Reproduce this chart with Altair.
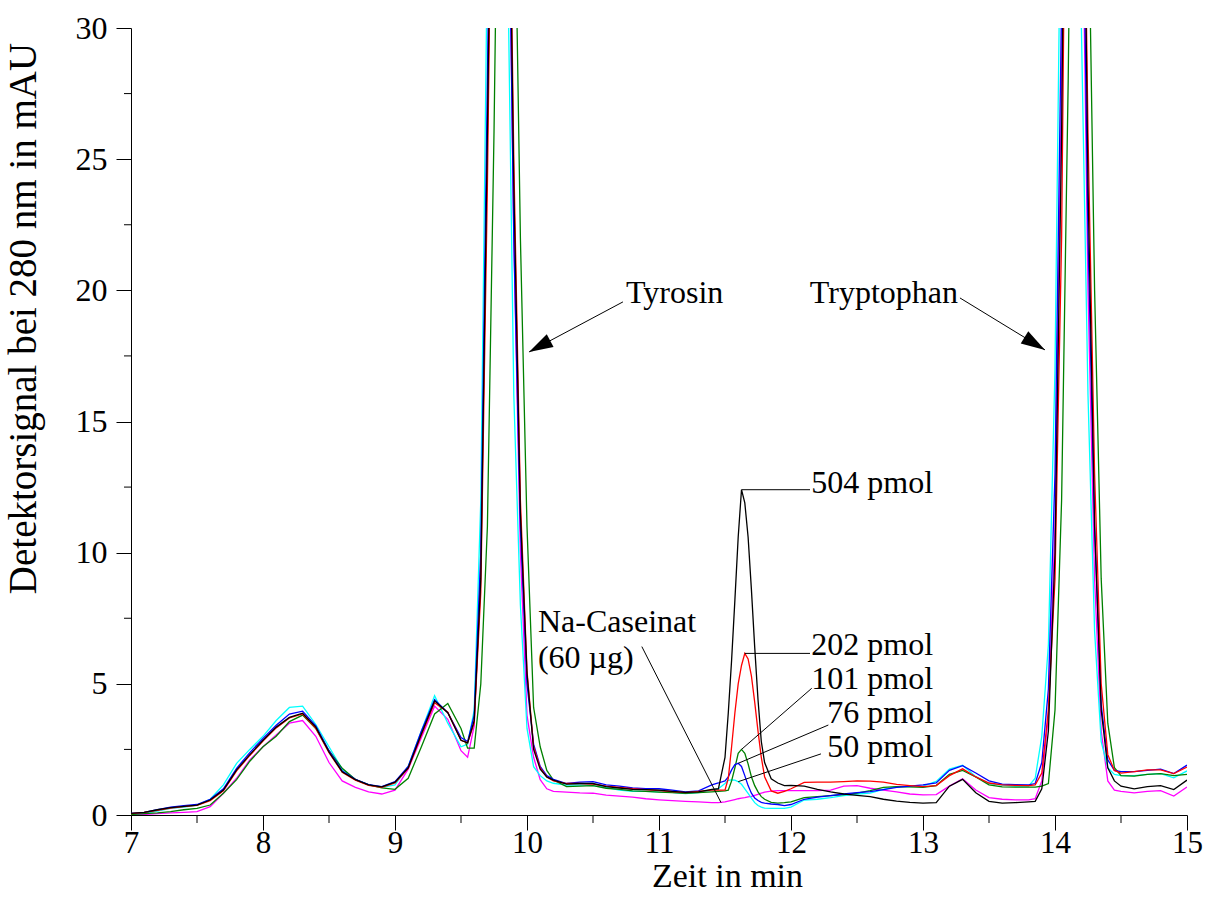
import math
import altair as alt
import pandas as pd

FONT = "Liberation Serif"

# Retention time grid (min); finer steps where the peaks are steep
TIME_MIN = [
    7.0, 7.1, 7.2, 7.3, 7.4, 7.5, 7.6, 7.7, 7.8, 7.9, 8.0, 8.1, 8.2, 8.3, 8.4, 8.5,
    8.6, 8.7, 8.8, 8.9, 9.0, 9.1, 9.2, 9.3, 9.4, 9.5,
    9.55, 9.6, 9.65, 9.7, 9.75, 9.8, 9.85, 9.9, 9.95, 10.0, 10.05, 10.1, 10.15, 10.2,
    10.3, 10.4, 10.5, 10.6, 10.7, 10.8, 10.9, 11.0, 11.1, 11.2, 11.3, 11.4,
    11.45, 11.5, 11.525, 11.55, 11.575, 11.6, 11.625, 11.65, 11.675, 11.7, 11.725,
    11.75, 11.775, 11.8, 11.85, 11.9, 11.95,
    12.0, 12.1, 12.2, 12.3, 12.4, 12.5, 12.6, 12.7, 12.8, 12.9, 13.0, 13.1, 13.2,
    13.3, 13.4, 13.5, 13.6, 13.7, 13.8,
    13.85, 13.9, 13.95, 14.0, 14.05, 14.1, 14.15, 14.2, 14.25, 14.3, 14.35, 14.4,
    14.45, 14.5,
    14.6, 14.7, 14.8, 14.9, 15.0,
]

# Detector signal at 280 nm (mAU) for each injection
SIGNAL_504_PMOL = [
    0.06, 0.10, 0.20, 0.28, 0.33, 0.38, 0.57, 0.95, 1.72, 2.30, 2.85, 3.35, 3.72, 3.88, 3.35, 2.40,
    1.65, 1.35, 1.15, 1.07, 1.25, 1.80, 3.10, 4.35, 3.90, 2.85,
    2.75, 3.6, 9.0, 26, 45, 55, 42, 24, 11.5, 5.4, 2.5, 1.75, 1.45, 1.33,
    1.18, 1.20, 1.20, 1.08, 1.03, 0.98, 0.97, 0.95, 0.90, 0.86, 0.88, 0.98,
    1.0, 2.2, 3.9, 5.9, 8.2, 10.6, 12.4, 11.9, 10.6, 8.6, 6.4,
    4.4, 2.8, 2.0, 1.38, 1.22, 1.12,
    1.13, 1.10, 0.98, 0.88, 0.80, 0.75, 0.70, 0.60, 0.53, 0.48, 0.45, 0.47, 1.10,
    1.36, 0.85, 0.52, 0.45, 0.47, 0.50,
    0.52, 1.0, 3.2, 10, 26, 50, 65, 45, 24, 11, 4.0, 1.8,
    1.3, 1.1,
    1.0, 1.08, 1.12, 0.97, 1.33,
]
SIGNAL_202_PMOL = [
    0.05, 0.10, 0.18, 0.26, 0.32, 0.37, 0.55, 0.92, 1.68, 2.27, 2.82, 3.32, 3.70, 3.85, 3.30, 2.38,
    1.63, 1.33, 1.13, 1.05, 1.22, 1.78, 3.05, 4.28, 3.92, 2.85,
    2.75, 3.5, 8.5, 24, 44, 55, 43, 25, 12, 5.5, 2.6, 1.8, 1.45, 1.30,
    1.20, 1.20, 1.18, 1.10, 1.05, 1.00, 0.97, 0.93, 0.89, 0.85, 0.90, 0.95,
    0.95, 0.95, 1.4, 2.6, 3.9, 5.0, 5.7, 6.16, 5.95, 5.3, 4.3,
    3.2, 2.2, 1.46, 0.92, 0.83, 0.90,
    1.00, 1.24, 1.25, 1.25, 1.27, 1.30, 1.29, 1.25, 1.17, 1.12, 1.08, 1.12, 1.50,
    1.76, 1.45, 1.22, 1.15, 1.13, 1.12,
    1.15, 1.6, 4.0, 9.0, 22, 48, 64, 44, 26, 13, 5.0, 2.3,
    1.7, 1.6,
    1.65, 1.72, 1.72, 1.58, 1.83,
]
SIGNAL_101_PMOL = [
    0.02, 0.05, 0.08, 0.13, 0.20, 0.25, 0.38, 0.83, 1.35, 2.05, 2.60, 3.00, 3.56, 3.81, 3.30, 2.45,
    1.78, 1.35, 1.15, 1.03, 0.98, 1.40, 2.60, 3.85, 4.25, 3.30,
    2.55, 2.55, 5.0, 11, 26, 45, 52, 38, 22, 11, 4.1, 2.6, 1.7, 1.33,
    1.08, 1.10, 1.12, 1.02, 0.98, 0.92, 0.90, 0.87, 0.85, 0.83, 0.85, 0.88,
    0.90, 0.92, 0.95, 1.30, 1.80, 2.35, 2.50, 2.35, 1.95, 1.46, 1.12,
    0.88, 0.70, 0.60, 0.48, 0.45, 0.47,
    0.50, 0.66, 0.70, 0.74, 0.78, 0.83, 0.93, 1.05, 1.08, 1.07, 1.05, 1.12, 1.55,
    1.70, 1.45, 1.15, 1.07, 1.06, 1.06,
    1.06, 1.10, 1.20, 4.0, 12, 28, 50, 60, 36, 20, 9.0, 3.5,
    1.8, 1.5,
    1.48, 1.55, 1.58, 1.50, 1.55,
]
SIGNAL_76_PMOL = [
    0.06, 0.10, 0.20, 0.30, 0.36, 0.40, 0.60, 1.00, 1.78, 2.38, 2.92, 3.42, 3.85, 3.96, 3.40, 2.45,
    1.68, 1.36, 1.16, 1.08, 1.27, 1.85, 3.20, 4.40, 3.90, 2.95,
    2.8, 3.8, 10, 28, 47, 54, 40, 22, 11, 5.0, 2.7, 1.85, 1.5, 1.36,
    1.20, 1.25, 1.27, 1.15, 1.10, 1.03, 1.00, 1.00, 0.95, 0.88, 0.92, 1.15,
    1.22, 1.30, 1.45, 1.72, 1.92, 1.97, 1.85, 1.50, 1.12, 0.83, 0.65,
    0.55, 0.48, 0.45, 0.42, 0.40, 0.36,
    0.40, 0.60, 0.68, 0.74, 0.80, 0.85, 0.89, 0.97, 1.05, 1.10, 1.15, 1.22, 1.70,
    1.88, 1.60, 1.30, 1.18, 1.16, 1.15,
    1.2, 2.0, 4.8, 13, 31, 55, 62, 40, 22, 11, 4.2, 2.1,
    1.7, 1.65,
    1.65, 1.70, 1.75, 1.58, 1.90,
]
SIGNAL_50_PMOL = [
    0.03, 0.06, 0.15, 0.25, 0.30, 0.38, 0.60, 1.15, 1.97, 2.50, 3.00, 3.60, 4.10, 4.15, 3.45, 2.60,
    1.75, 1.35, 1.15, 1.05, 1.15, 1.85, 3.20, 4.55, 3.50, 2.60,
    2.7, 4.0, 12, 33, 50, 48, 34, 16, 8, 3.3, 1.84, 1.5, 1.3, 1.21,
    1.14, 1.15, 1.12, 1.05, 0.95, 0.90, 0.90, 0.88, 0.86, 0.82, 0.85, 0.95,
    1.00, 1.20, 1.32, 1.34, 1.33, 1.27, 1.17, 1.00, 0.82, 0.64, 0.47,
    0.36, 0.30, 0.26, 0.25, 0.25, 0.25,
    0.30, 0.57, 0.60, 0.66, 0.74, 0.80, 0.83, 0.98, 1.08, 1.08, 1.10, 1.28, 1.75,
    1.90, 1.46, 1.20, 1.14, 1.10, 1.10,
    1.4, 3.0, 6.5, 17, 38, 60, 55, 30, 16, 7, 2.8, 1.8,
    1.55, 1.5,
    1.50, 1.55, 1.58, 1.42, 1.68,
]
SIGNAL_CASEINAT = [
    0.00, 0.02, 0.05, 0.08, 0.10, 0.13, 0.32, 0.83, 1.40, 2.10, 2.60, 3.05, 3.50, 3.60, 3.00, 2.00,
    1.30, 1.05, 0.88, 0.80, 0.95, 1.75, 2.95, 4.15, 3.65, 2.45,
    2.2, 3.4, 9.5, 26, 46, 54, 40, 22, 10, 3.8, 2.2, 1.35, 1.0, 0.9,
    0.87, 0.84, 0.83, 0.76, 0.72, 0.68, 0.62, 0.58, 0.55, 0.52, 0.50, 0.47,
    0.47, 0.50, 0.53, 0.56, 0.59, 0.62, 0.64, 0.66, 0.69, 0.71, 0.75,
    0.79, 0.83, 0.87, 0.91, 0.93, 0.93,
    0.93, 0.93, 0.93, 0.95, 1.10, 1.12, 1.02, 0.95, 0.88, 0.80, 0.77, 0.78, 1.10,
    1.38, 0.95, 0.66, 0.60, 0.58, 0.58,
    0.62, 1.3, 3.8, 11, 28, 52, 60, 38, 20, 9, 3.2, 1.3,
    0.95, 0.9,
    0.84, 0.90, 0.93, 0.72, 1.07,
]

# Traces in drawing order (last one on top)
TRACES = [
    ("Na-Caseinat", SIGNAL_CASEINAT, "#ff00ff"),
    ("50 pmol", SIGNAL_50_PMOL, "#00ffff"),
    ("101 pmol", SIGNAL_101_PMOL, "#008000"),
    ("76 pmol", SIGNAL_76_PMOL, "#0000ff"),
    ("202 pmol", SIGNAL_202_PMOL, "#ff0000"),
    ("504 pmol", SIGNAL_504_PMOL, "#000000"),
]

X_TICKS = [7, 8, 9, 10, 11, 12, 13, 14, 15]
X_MINOR = [7.5, 8.5, 9.5, 10.5, 11.5, 12.5, 13.5, 14.5]
Y_TICKS = [0, 5, 10, 15, 20, 25, 30]
Y_MINOR = [2.5, 7.5, 12.5, 17.5, 22.5, 27.5]

# Amount labels on the right, with leader lines from each peak apex
PMOL_TEXT = ["504 pmol", "202 pmol", "101 pmol", "76 pmol", "50 pmol"]
PMOL_TEXT_T = [13.076, 13.076, 13.076, 13.076, 13.076]
PMOL_TEXT_V = [12.27, 6.10, 4.80, 3.50, 2.22]
LEADER_T0 = [11.625, 11.65, 11.625, 11.60, 11.60]
LEADER_V0 = [12.4, 6.16, 2.50, 1.97, 1.27]
LEADER_T1 = [12.144, 12.144, 12.157, 12.283, 12.227]
LEADER_V1 = [12.4, 6.16, 4.83, 3.43, 2.33]

# Sample annotation
CASEIN_TEXT = ["Na-Caseinat", "(60 µg)"]
CASEIN_TEXT_T = [10.083, 10.083]
CASEIN_TEXT_V = [6.98, 5.62]
CASEIN_LEADER = dict(t=[10.87], v=[6.42], t2=[11.47], v2=[0.47])

# Peak names with arrows
PEAK_NAMES = ["Tyrosin", "Tryptophan"]
PEAK_TEXT_T = [10.75, 13.265]
PEAK_TEXT_V = [19.52, 19.52]
PEAK_TEXT_ALIGN = ["left", "right"]
ARROW_TAIL_T = [10.727, 13.28]
ARROW_TAIL_V = [19.56, 19.71]
ARROW_TIP_T = [10.015, 13.924]
ARROW_TIP_V = [17.65, 17.73]

W, H = 1056, 787
X_DOMAIN = [7, 15]
Y_DOMAIN = [0, 30]

x_axis = alt.Axis(
    values=X_TICKS, format="d", grid=False, tickSize=15, tickColor="black",
    domainColor="black", labelFont=FONT, labelFontSize=31, labelColor="black",
    labelPadding=-2, labelFlush=False, labelOverlap=False,
    title="Zeit in min", titleFont=FONT, titleFontSize=34, titleFontWeight="normal",
    titleColor="black", titleX=596, titleY=71, titleAlign="center",
    titleBaseline="alphabetic",
)
y_axis = alt.Axis(
    values=Y_TICKS, format="d", grid=False, tickSize=15, tickColor="black",
    domainColor="black", labelFont=FONT, labelFontSize=32, labelColor="black",
    labelPadding=9, labelFlush=False, labelOverlap=False,
    title="Detektorsignal bei 280 nm in mAU", titleFont=FONT, titleFontSize=39,
    titleFontWeight="normal", titleColor="black", titleAngle=270, titleX=-96,
    titleY=290, titleAlign="center", titleBaseline="alphabetic",
)


def xenc(field):
    return alt.X(f"{field}:Q", scale=alt.Scale(domain=X_DOMAIN, nice=False, zero=False), axis=x_axis)


def yenc(field):
    return alt.Y(f"{field}:Q", scale=alt.Scale(domain=Y_DOMAIN, nice=False, zero=False), axis=y_axis)


layers = []

# chromatogram traces
for name, values, color in TRACES:
    assert len(values) == len(TIME_MIN), name
    df = pd.DataFrame({"time": TIME_MIN, "signal": values, "trace": name})
    layers.append(
        alt.Chart(df).mark_line(clip=True, color=color, strokeWidth=1.3)
        .encode(x=xenc("time"), y=yenc("signal"), order="time:Q")
    )

# minor ticks
layers.append(
    alt.Chart(pd.DataFrame({"v": Y_MINOR})).mark_rule(color="black", strokeWidth=1)
    .encode(y=yenc("v"), x=alt.value(-7), x2=alt.value(0))
)
layers.append(
    alt.Chart(pd.DataFrame({"t": X_MINOR})).mark_rule(color="black", strokeWidth=1)
    .encode(x=xenc("t"), y=alt.value(H), y2=alt.value(H + 8))
)

# leader lines for the amount labels
leaders = pd.DataFrame({"t": LEADER_T0, "v": LEADER_V0, "t2": LEADER_T1, "v2": LEADER_V1})
layers.append(
    alt.Chart(leaders).mark_rule(color="black", strokeWidth=1)
    .encode(x=xenc("t"), y=yenc("v"), x2="t2:Q", y2="v2:Q")
)
layers.append(
    alt.Chart(pd.DataFrame({"t": PMOL_TEXT_T, "v": PMOL_TEXT_V, "label": PMOL_TEXT}))
    .mark_text(font=FONT, fontSize=32, align="right", baseline="alphabetic", color="black")
    .encode(x=xenc("t"), y=yenc("v"), text="label:N")
)

# sample label
layers.append(
    alt.Chart(pd.DataFrame(CASEIN_LEADER)).mark_rule(color="black", strokeWidth=1)
    .encode(x=xenc("t"), y=yenc("v"), x2="t2:Q", y2="v2:Q")
)
layers.append(
    alt.Chart(pd.DataFrame({"t": CASEIN_TEXT_T, "v": CASEIN_TEXT_V, "label": CASEIN_TEXT}))
    .mark_text(font=FONT, fontSize=32, align="left", baseline="alphabetic", color="black")
    .encode(x=xenc("t"), y=yenc("v"), text="label:N")
)

# peak names with arrows
sx = W / (X_DOMAIN[1] - X_DOMAIN[0])
sy = H / (Y_DOMAIN[1] - Y_DOMAIN[0])
angles = []
for t0, v0, t1, v1 in zip(ARROW_TAIL_T, ARROW_TAIL_V, ARROW_TIP_T, ARROW_TIP_V):
    dx = (t1 - t0) * sx
    dy = -(v1 - v0) * sy
    angles.append(math.degrees(math.atan2(dx, -dy)) % 360)

arrows = pd.DataFrame({
    "t": ARROW_TAIL_T, "v": ARROW_TAIL_V, "t2": ARROW_TIP_T, "v2": ARROW_TIP_V,
    "tip_t": ARROW_TIP_T, "tip_v": ARROW_TIP_V, "angle": angles,
})
layers.append(
    alt.Chart(arrows).mark_rule(color="black", strokeWidth=1)
    .encode(x=xenc("t"), y=yenc("v"), x2="t2:Q", y2="v2:Q")
)
layers.append(
    alt.Chart(arrows).mark_point(
        shape="M0,0L0.3,1L-0.3,1Z", filled=True, size=2304, color="black",
        opacity=1, strokeWidth=0,
    ).encode(x=xenc("tip_t"), y=yenc("tip_v"), angle=alt.Angle("angle:Q", scale=None))
)
for name, t, v, align in zip(PEAK_NAMES, PEAK_TEXT_T, PEAK_TEXT_V, PEAK_TEXT_ALIGN):
    layers.append(
        alt.Chart(pd.DataFrame({"t": [t], "v": [v], "label": [name]}))
        .mark_text(font=FONT, fontSize=32, align=align, baseline="alphabetic", color="black")
        .encode(x=xenc("t"), y=yenc("v"), text="label:N")
    )

chart = (
    alt.layer(*layers)
    .properties(
        width=W, height=H,
        padding={"left": 131, "top": 28, "right": 24, "bottom": 92},
        autosize=alt.AutoSizeParams(type="none"),
        background="white",
    )
    .configure_view(stroke=None)
)

chart.save("out.html", embed_options={"renderer": "svg", "actions": False})
